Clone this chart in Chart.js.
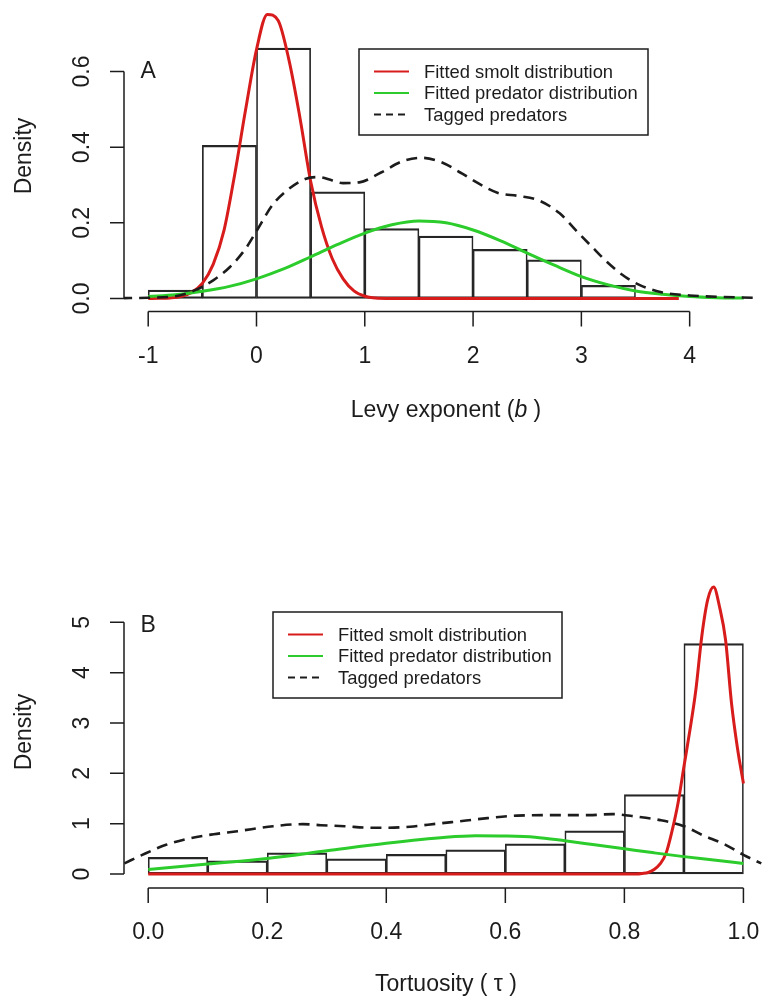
<!DOCTYPE html>
<html>
<head>
<meta charset="utf-8">
<script src="https://cdn.jsdelivr.net/npm/chart.js@4/dist/chart.umd.min.js"></script>
<style>
  html, body { margin: 0; padding: 0; background: #ffffff; }
  #wrap { position: relative; width: 762px; height: 1000px; }
  canvas { position: absolute; left: 0; }
</style>
</head>
<body>
<div id="wrap">
  <canvas id="panelA" width="762" height="450" style="top:0px"></canvas>
  <canvas id="panelB" width="762" height="550" style="top:450px"></canvas>
</div>
<script>
// ---------- Panel A: Levy exponent (b) ----------
const levyBinStarts = [-1, -0.5, 0, 0.5, 1, 1.5, 2, 2.5, 3];
const levyBinWidth = 0.5;
const levyDensity = [0.022, 0.405, 0.662, 0.282, 0.185, 0.165, 0.130, 0.102, 0.035];

const levySmoltX = [-1, -0.9, -0.8, -0.7, -0.6, -0.5, -0.4, -0.3, -0.2, -0.1, 0, 0.1, 0.2, 0.3, 0.4, 0.5, 0.6, 0.7, 0.8, 0.9, 1.0, 1.1, 1.2, 1.5, 2, 2.5, 3, 3.5, 3.9];
const levySmoltY = [0, 0.0005, 0.0015, 0.005, 0.016, 0.04, 0.09, 0.18, 0.33, 0.50, 0.658, 0.751, 0.735, 0.63, 0.48, 0.31, 0.19, 0.105, 0.052, 0.02, 0.006, 0.001, 0, 0, 0, 0, 0, 0, 0];

const levyPredX = [-1, -0.75, -0.5, -0.25, 0, 0.25, 0.5, 0.75, 1.0, 1.25, 1.5, 1.75, 2.0, 2.25, 2.5, 2.75, 3.0, 3.25, 3.5, 3.75, 4.0, 4.25, 4.5];
const levyPredY = [0.005, 0.010, 0.019, 0.032, 0.052, 0.078, 0.110, 0.143, 0.173, 0.195, 0.205, 0.200, 0.181, 0.153, 0.120, 0.088, 0.058, 0.036, 0.020, 0.011, 0.005, 0.002, 0.001];

const levyTaggedX = [-1.25, -1.0, -0.75, -0.55, -0.4, -0.25, -0.1, 0.0, 0.15, 0.3, 0.45, 0.57, 0.7, 0.8, 0.95, 1.15, 1.35, 1.52, 1.7, 1.9, 2.05, 2.23, 2.42, 2.6, 2.8, 2.95, 3.1, 3.25, 3.4, 3.55, 3.75, 4.0, 4.3, 4.6];
const levyTaggedY = [0.001, 0.002, 0.006, 0.024, 0.048, 0.082, 0.132, 0.178, 0.248, 0.290, 0.316, 0.321, 0.312, 0.305, 0.307, 0.333, 0.363, 0.372, 0.361, 0.330, 0.304, 0.279, 0.271, 0.260, 0.225, 0.180, 0.136, 0.093, 0.058, 0.034, 0.016, 0.008, 0.004, 0.002];

const levyTicks = [-1, 0, 1, 2, 3, 4];
const levyTickLabels = ['-1', '0', '1', '2', '3', '4'];
const levyDensityTicks = [0, 0.2, 0.4, 0.6];
const levyDensityLabels = ['0.0', '0.2', '0.4', '0.6'];

// ---------- Panel B: Tortuosity (tau) ----------
const tortBinStarts = [0, 0.1, 0.2, 0.3, 0.4, 0.5, 0.6, 0.7, 0.8, 0.9];
const tortBinWidth = 0.1;
const tortDensity = [0.33, 0.26, 0.42, 0.30, 0.39, 0.48, 0.60, 0.86, 1.58, 4.58];

const tortSmoltX = [0, 0.2, 0.4, 0.6, 0.8, 0.82, 0.83, 0.84, 0.85, 0.86, 0.87, 0.88, 0.89, 0.90, 0.91, 0.92, 0.93, 0.94, 0.95, 0.96, 0.97, 0.98, 0.99, 1.0];
const tortSmoltY = [0, 0, 0, 0, 0, 0, 0.01, 0.03, 0.09, 0.20, 0.41, 0.85, 1.40, 2.13, 2.85, 3.65, 4.72, 5.45, 5.70, 5.30, 4.65, 3.39, 2.50, 1.80];

const tortPredX = [0, 0.1, 0.2, 0.3, 0.4, 0.5, 0.55, 0.6, 0.65, 0.7, 0.75, 0.8, 0.85, 0.9, 0.95, 1.0];
const tortPredY = [0.09, 0.20, 0.31, 0.46, 0.61, 0.73, 0.76, 0.755, 0.73, 0.66, 0.58, 0.50, 0.42, 0.345, 0.28, 0.21];

const tortTaggedX = [-0.04, -0.01, 0.03, 0.07, 0.11, 0.15, 0.21, 0.26, 0.29, 0.33, 0.37, 0.40, 0.44, 0.47, 0.51, 0.57, 0.62, 0.68, 0.74, 0.78, 0.82, 0.86, 0.90, 0.93, 0.97, 1.00, 1.03];
const tortTaggedY = [0.21, 0.38, 0.58, 0.71, 0.79, 0.85, 0.95, 0.99, 0.97, 0.95, 0.92, 0.92, 0.94, 0.98, 1.03, 1.11, 1.16, 1.17, 1.17, 1.19, 1.14, 1.07, 0.95, 0.78, 0.58, 0.38, 0.21];

const tortTicks = [0, 0.2, 0.4, 0.6, 0.8, 1.0];
const tortTickLabels = ['0.0', '0.2', '0.4', '0.6', '0.8', '1.0'];
const tortDensityTicks = [0, 1, 2, 3, 4, 5];
const tortDensityLabels = ['0', '1', '2', '3', '4', '5'];

const seriesNames = ['Fitted smolt distribution', 'Fitted predator distribution', 'Tagged predators'];

// ---------- styling ----------
const FONT = '"Liberation Sans", Arial, Helvetica, sans-serif';
const INK = '#1c1c1c';
const RED = '#d81c1c';
const GREEN = '#2ccc2c';

const zip = (xs, ys) => xs.map((x, i) => ({ x: x, y: ys[i] }));
const bins = (starts, w, dens) => starts.map((s, i) => ({ x: s + w / 2, y: dens[i] }));

// R-style decorations: detached axes, rotated y labels, boxed legend, panel letter
const rPanel = {
  id: 'rPanel',
  afterDraw(chart, args, o) {
    const ctx = chart.ctx, xs = chart.scales.x, ys = chart.scales.y, area = chart.chartArea;
    ctx.save();
    ctx.strokeStyle = INK; ctx.fillStyle = INK; ctx.lineWidth = 1.5; ctx.setLineDash([]);

    const axisY = area.bottom, axisX = area.left;
    ctx.beginPath();
    ctx.moveTo(xs.getPixelForValue(o.xTicks[0]), axisY);
    ctx.lineTo(xs.getPixelForValue(o.xTicks[o.xTicks.length - 1]), axisY);
    o.xTicks.forEach(v => { const p = xs.getPixelForValue(v); ctx.moveTo(p, axisY); ctx.lineTo(p, axisY + 15); });
    ctx.moveTo(axisX, ys.getPixelForValue(o.yTicks[0]));
    ctx.lineTo(axisX, ys.getPixelForValue(o.yTicks[o.yTicks.length - 1]));
    o.yTicks.forEach(v => { const p = ys.getPixelForValue(v); ctx.moveTo(axisX, p); ctx.lineTo(axisX - 14, p); });
    ctx.stroke();

    ctx.font = '23px ' + FONT;
    ctx.textAlign = 'center'; ctx.textBaseline = 'middle';
    o.xTicks.forEach((v, i) => ctx.fillText(o.xLabels[i], xs.getPixelForValue(v), axisY + 45));
    o.yTicks.forEach((v, i) => {
      ctx.save(); ctx.translate(axisX - 41, ys.getPixelForValue(v)); ctx.rotate(-Math.PI / 2);
      ctx.fillText(o.yLabels[i], 0, 0); ctx.restore();
    });
    ctx.save(); ctx.translate(axisX - 99, o.yTitleY); ctx.rotate(-Math.PI / 2);
    ctx.fillText('Density', 0, 0); ctx.restore();

    // x title made of plain and italic pieces
    const parts = o.xTitle;
    const fontOf = p => (p.italic ? 'italic ' : '') + '23px ' + FONT;
    let total = 0;
    parts.forEach(p => { ctx.font = fontOf(p); total += ctx.measureText(p.text).width; });
    let cx = o.xTitleX - total / 2;
    ctx.textAlign = 'left';
    parts.forEach(p => { ctx.font = fontOf(p); ctx.fillText(p.text, cx, axisY + o.xTitleGap); cx += ctx.measureText(p.text).width; });

    // panel letter
    ctx.font = '23px ' + FONT; ctx.textAlign = 'center';
    ctx.fillText(o.letter, xs.getPixelForValue(o.letterAt[0]), ys.getPixelForValue(o.letterAt[1]));

    // legend box
    const lg = o.legend;
    ctx.lineWidth = 1.5; ctx.strokeStyle = INK;
    ctx.strokeRect(lg.left, lg.top, lg.width, lg.height);
    ctx.font = '18.4px ' + FONT; ctx.textAlign = 'left';
    const lineSets = chart.data.datasets.filter(d => d.type === 'line' && d.label);
    lineSets.sort((a, b) => seriesNames.indexOf(a.label) - seriesNames.indexOf(b.label));
    lineSets.forEach((d, i) => {
      const y = lg.top + 22.5 + i * 21.5;
      ctx.strokeStyle = d.borderColor; ctx.lineWidth = 1.8;
      ctx.setLineDash(d.borderDash ? [7, 5] : []);
      ctx.beginPath(); ctx.moveTo(lg.left + 15, y); ctx.lineTo(lg.left + 50, y); ctx.stroke();
      ctx.setLineDash([]);
      ctx.fillStyle = INK;
      ctx.fillText(d.label, lg.left + 65, y + 1);
    });
    ctx.restore();
  }
};

function makeDatasets(binData, smolt, pred, tagged) {
  return [
    { type: 'line', label: seriesNames[2], data: tagged, borderColor: INK, borderWidth: 2.6, borderDash: [11, 7],
      pointRadius: 0, cubicInterpolationMode: 'monotone', fill: false, order: 0 },
    { type: 'line', label: seriesNames[1], data: pred, borderColor: GREEN, borderWidth: 3,
      pointRadius: 0, cubicInterpolationMode: 'monotone', fill: false, order: 1 },
    { type: 'line', label: seriesNames[0], data: smolt, borderColor: RED, borderWidth: 3,
      pointRadius: 0, cubicInterpolationMode: 'monotone', fill: false, order: 2 },
    { type: 'bar', label: '', data: binData, backgroundColor: 'rgba(0,0,0,0)', borderColor: '#262626',
      borderWidth: { top: 1.6, bottom: 1.6, left: 1.0, right: 1.0 }, borderSkipped: false,
      barPercentage: 1, categoryPercentage: 1, order: 10 }
  ];
}

function makeChart(id, datasets, xRange, yRange, bottomPad, deco) {
  return new Chart(document.getElementById(id), {
    type: 'line',
    data: { datasets: datasets },
    options: {
      responsive: false, animation: false, devicePixelRatio: 1,
      layout: { padding: { left: 124, right: 0, top: 0, bottom: bottomPad } },
      scales: {
        x: { type: 'linear', min: xRange[0], max: xRange[1], offset: false, display: false,
             afterBuildTicks: s => { s.ticks = []; } },
        y: { type: 'linear', min: yRange[0], max: yRange[1], display: false,
             afterBuildTicks: s => { s.ticks = []; } }
      },
      plugins: { legend: { display: false }, tooltip: { enabled: false }, rPanel: deco }
    },
    plugins: [rPanel]
  });
}

makeChart('panelA',
  makeDatasets(bins(levyBinStarts, levyBinWidth, levyDensity), zip(levySmoltX, levySmoltY),
               zip(levyPredX, levyPredY), zip(levyTaggedX, levyTaggedY)),
  [-1.2235, 4.668], [-0.0344, 0.789], 138.5,
  {
    xTicks: levyTicks, xLabels: levyTickLabels, yTicks: levyDensityTicks, yLabels: levyDensityLabels,
    yTitleY: 156, xTitleX: 446, xTitleGap: 99,
    xTitle: [{ text: 'Levy exponent (' }, { text: 'b', italic: true }, { text: ' )' }],
    letter: 'A', letterAt: [-1, 0.6],
    legend: { left: 359, top: 49, width: 289, height: 86 }
  });

makeChart('panelB',
  makeDatasets(bins(tortBinStarts, tortBinWidth, tortDensity), zip(tortSmoltX, tortSmoltY),
               zip(tortPredX, tortPredY), zip(tortTaggedX, tortTaggedY)),
  [-0.04066, 1.0312], [-0.2782, 8.424], 112,
  {
    xTicks: tortTicks, xLabels: tortTickLabels, yTicks: tortDensityTicks, yLabels: tortDensityLabels,
    yTitleY: 282, xTitleX: 446, xTitleGap: 97,
    xTitle: [{ text: 'Tortuosity ( \u03c4 )' }],
    letter: 'B', letterAt: [0, 4.93],
    legend: { left: 273, top: 162, width: 289, height: 86 }
  });
</script>
</body>
</html>
